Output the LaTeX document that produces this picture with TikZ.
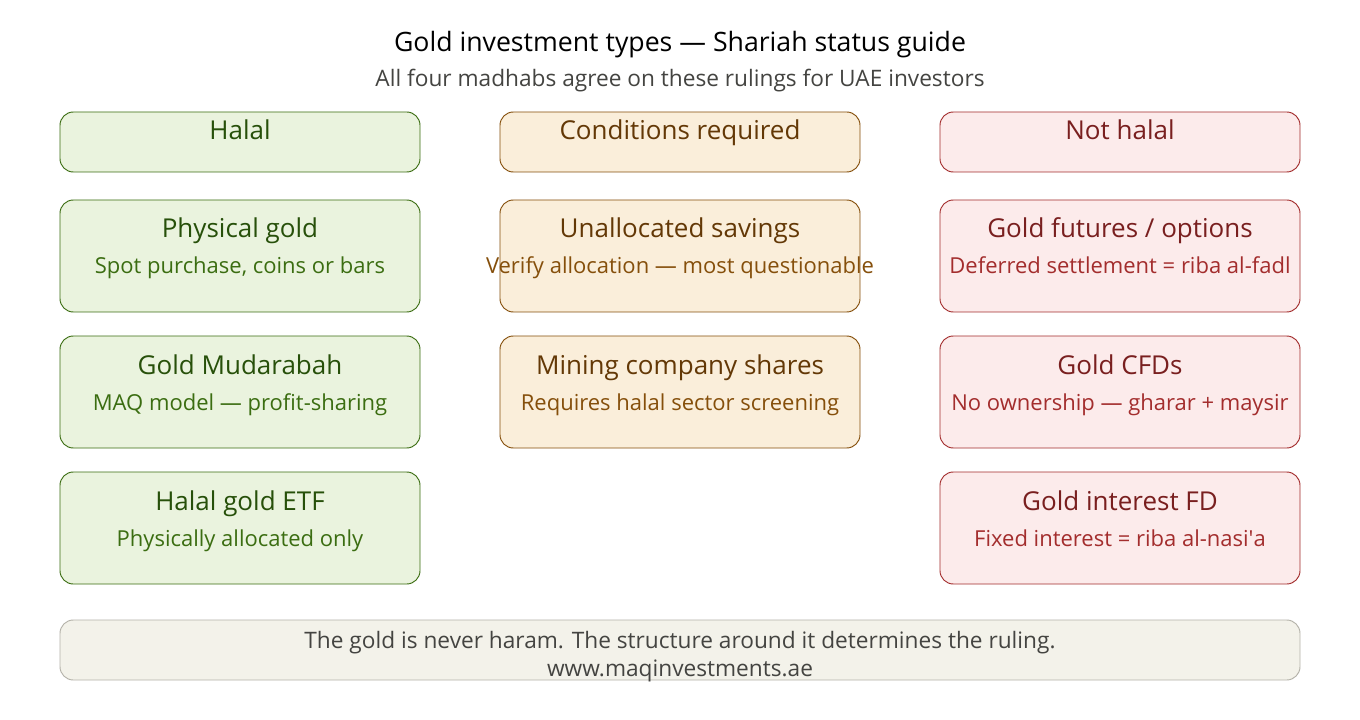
\documentclass[tikz,border=0pt]{standalone}
\usepackage{fontspec}
\setmainfont{Open Sans}
\definecolor{gF}{HTML}{EAF3DE}\definecolor{gD}{HTML}{3B6D11}\definecolor{gT}{HTML}{27500A}
\definecolor{aF}{HTML}{FAEEDA}\definecolor{aD}{HTML}{854F0B}\definecolor{aT}{HTML}{633806}
\definecolor{rF}{HTML}{FCEBEB}\definecolor{rD}{HTML}{A32D2D}\definecolor{rT}{HTML}{791F1F}
\definecolor{fF}{HTML}{F3F2EA}\definecolor{fD}{HTML}{B4B2A9}\definecolor{fT}{HTML}{444441}
\tikzset{
 box/.style={draw=#1D,fill=#1F,rounded corners=10pt,line width=0.7pt},
 ttl/.style={text=#1T,font=\fontsize{19.5}{22}\selectfont,anchor=base},
 sub/.style={text=#1D,font=\fontsize{16.5}{19}\selectfont,anchor=base},
}
\newcommand\card[6]{% col color x top title sub
 \path[box=#2] (#3,#4) rectangle (#3+360,#4+112);
 \node[ttl=#2] (#1t) at (#3+180,#4+38) {#5};
 \node[sub=#2] (#1s) at (#3+180,#4+74) {#6};}
\newcommand\hdr[4]{%
 \path[box=#2] (#3,112) rectangle (#3+360,172);
 \node[ttl=#2] (#1) at (#3+180,140) {#4};}
\begin{document}
\begin{tikzpicture}[x=0.75pt,y=-0.75pt]
\useasboundingbox[fill=white] (0,0) rectangle (1360,720);
\node[font=\fontsize{20}{24}\selectfont,anchor=base] (title) at (680,52) {Gold investment types — Shariah status guide};
\node[text=fT,font=\fontsize{17}{20}\selectfont,anchor=base] (subtitle) at (680,87) {All four madhabs agree on these rulings for UAE investors};
\hdr{h1}{g}{60}{Halal}
\hdr{h2}{a}{500}{Conditions required}
\hdr{h3}{r}{940}{Not halal}
\card{g1}{g}{60}{200}{Physical gold}{Spot purchase, coins or bars}
\card{g2}{g}{60}{336}{Gold Mudarabah}{MAQ model — profit-sharing}
\card{g3}{g}{60}{472}{Halal gold ETF}{Physically allocated only}
\card{a1}{a}{500}{200}{Unallocated savings}{Verify allocation — most questionable}
\card{a2}{a}{500}{336}{Mining company shares}{Requires halal sector screening}
\card{r1}{r}{940}{200}{Gold futures / options}{Deferred settlement = riba al-fadl}
\card{r2}{r}{940}{336}{Gold CFDs}{No ownership — gharar + maysir}
\card{r3}{r}{940}{472}{Gold interest FD}{Fixed interest = riba al-nasi\textquotesingle a}
\path[box=f] (60,620) rectangle (1300,680);
\node[text=fT,font=\fontsize{17}{20}\selectfont,anchor=base] (f1) at (680,648) {The gold is never haram. The structure around it determines the ruling.};
\node[text=fT,font=\fontsize{17}{20}\selectfont,anchor=base] (f2) at (680,676) {www.maqinvestments.ae};
\end{tikzpicture}
\end{document}
